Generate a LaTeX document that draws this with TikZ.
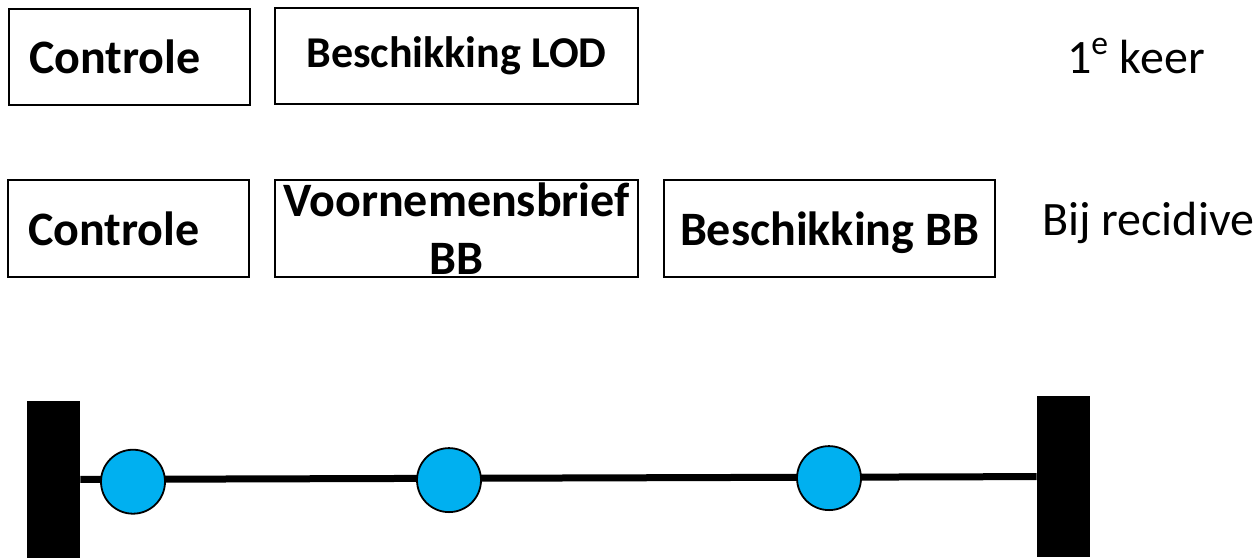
\documentclass[tikz,border=0pt]{standalone}
\usepackage{fontspec}
\setmainfont{Carlito}
\definecolor{dotblue}{RGB}{0,176,240}
\tikzset{
  stagebox/.style={draw,line width=0.8pt,inner ysep=0pt,align=center,
    font=\fontsize{24}{28.8}\selectfont\bfseries},
  bar/.style={fill=black,inner sep=0pt,minimum width=26.5pt},
  dot/.style={circle,draw,line width=0.9pt,fill=dotblue,inner sep=0pt,minimum size=32pt}
}
\begin{document}
\begin{tikzpicture}[x=0.5pt,y=-0.5pt]
\useasboundingbox (0,0) rectangle (1257,558);

% first time
\node[stagebox,align=left,inner xsep=10pt,text width=100.5pt,minimum height=48pt] (ctrlA) at (129.5,57) {Controle};
\node[stagebox,font=\fontsize{22}{26.4}\selectfont\bfseries,minimum width=181.5pt,minimum height=48pt] (lod) at (456.5,56) {Beschikking LOD};
\node[anchor=base west,font=\fontsize{24}{28.8}\selectfont] (first) at (1060,73) {1\textsuperscript{e} keer};

% recidive
\node[stagebox,align=left,inner xsep=10pt,text width=100.5pt,minimum height=48.5pt] (ctrlB) at (128.5,228.5) {Controle};
\node[stagebox,minimum width=181.5pt,minimum height=48.5pt] (vbb) at (456.5,228.5) {Voornemensbrief\\BB};
\node[stagebox,text depth=0pt,minimum width=165.5pt,minimum height=48.5pt] (bbb) at (829.5,228.5) {Beschikking BB};
\node[anchor=base west,font=\fontsize{24}{28.8}\selectfont] (recid) at (1035,235) {Bij recidive};

% timeline
\node[bar,minimum height=78.5pt] (lbar) at (53.5,479.5) {};
\node[bar,minimum height=80.5pt] (rbar) at (1063.5,476.5) {};
\draw[line width=3.5pt] (lbar) -- (rbar);
\node[dot] (d1) at (133,481.7) {};
\node[dot] (d2) at (449,480.1) {};
\node[dot] (d3) at (829,478.1) {};
\end{tikzpicture}
\end{document}
